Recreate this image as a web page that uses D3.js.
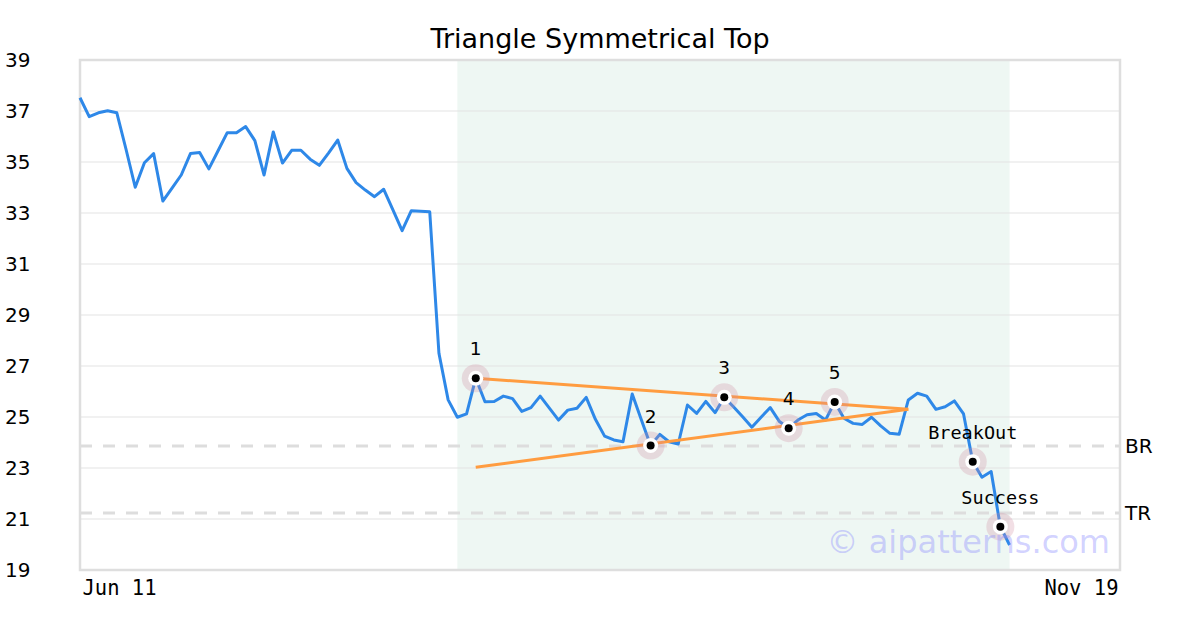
<!DOCTYPE html>
<html>
<head>
<meta charset="utf-8">
<script src="https://cdn.jsdelivr.net/npm/d3@7"></script>
<style>
  html, body { margin: 0; padding: 0; background: #fff; }
  svg { display: block; }
</style>
</head>
<body>
<svg id="chart" width="1200" height="630"></svg>
<script>
const title = "Triangle Symmetrical Top";
const prices = [
  37.52, 36.78, 36.93, 37.01, 36.93, 35.50, 34.01, 34.97, 35.33, 33.47,
  33.98, 34.49, 35.33, 35.37, 34.73, 35.44, 36.15, 36.15, 36.39, 35.84,
  34.49, 36.18, 34.96, 35.46, 35.46, 35.11, 34.87, 35.35, 35.86, 34.75,
  34.19, 33.90, 33.64, 33.93, 33.12, 32.31, 33.09, 33.07, 33.05, 27.50,
  25.67, 24.99, 25.12, 26.52, 25.60, 25.61, 25.82, 25.72, 25.22, 25.37,
  25.82, 25.35, 24.88, 25.27, 25.34, 25.77, 24.91, 24.25, 24.10, 24.03,
  25.90, 24.88, 23.88, 24.32, 24.03, 23.94, 25.47, 25.14, 25.61, 25.17,
  25.77, 25.40, 25.01, 24.60, 24.99, 25.37, 24.82, 24.56, 24.88, 25.09,
  25.14, 24.88, 25.59, 24.95, 24.75, 24.71, 24.99, 24.65, 24.36, 24.32,
  25.67, 25.93, 25.82, 25.30, 25.40, 25.63, 25.12, 23.25, 22.64, 22.86,
  20.70, 19.98
];
const xTickIndex = [0, 113];
const xTickLabels = ["Jun 11", "Nov 19"];
const yTicks = [19, 21, 23, 25, 27, 29, 31, 33, 35, 37, 39];
const shadeRange = [41, 101];
const pointIndex = [43, 62, 70, 77, 82, 97, 100];
const pointLabels = ["1", "2", "3", "4", "5", "BreakOut", "Success"];
const upperLine = [[43, 26.52], [90, 25.30]];
const lowerLine = [[43, 23.03], [90, 25.30]];
const refLevels = [23.86, 21.24];
const refLabels = ["BR", "TR"];
const watermark = "© aipatterns.com";

const svg = d3.select("#chart");
const L = 80, R = 1120, T = 60, B = 570;
const x = d3.scaleLinear().domain([0, 113]).range([L, R]);
const y = d3.scaleLinear().domain([19, 39]).range([B, T]);

// title
svg.append("text").attr("x", 600).attr("y", 48).attr("text-anchor", "middle")
  .attr("font-family", "DejaVu Sans").attr("font-size", 27).attr("fill", "#000").text(title);

// shaded region
svg.append("rect").attr("x", x(shadeRange[0])).attr("y", T)
  .attr("width", x(shadeRange[1]) - x(shadeRange[0])).attr("height", B - T)
  .attr("fill", "#eef7f3");

// gridlines
svg.append("g").selectAll("line").data(yTicks.slice(1, -1)).join("line")
  .attr("x1", L).attr("x2", R).attr("y1", d => y(d)).attr("y2", d => y(d))
  .attr("stroke", "#e3e3e3").attr("stroke-width", 1);

// y axis labels
const yAxis = d3.axisLeft(y).tickValues(yTicks).tickSize(0).tickPadding(0);
const gy = svg.append("g").attr("transform", "translate(5,0)").call(yAxis);
gy.select(".domain").remove();
gy.selectAll("text").attr("text-anchor", "start").attr("x", 0)
  .attr("font-family", "DejaVu Sans").attr("font-size", 20).attr("fill", "#000");

// x axis labels
const xAxis = d3.axisBottom(x).tickValues(xTickIndex).tickSize(0).tickPadding(0)
  .tickFormat((d, i) => xTickLabels[i]);
const gx = svg.append("g").attr("transform", `translate(0,${B})`).call(xAxis);
gx.select(".domain").remove();
gx.selectAll("text").attr("y", 25).attr("dy", 0)
  .attr("font-family", "DejaVu Sans Mono").attr("font-size", 20.5).attr("fill", "#000")
  .attr("text-anchor", (d, i) => i === 0 ? "start" : "end")
  .attr("x", (d, i) => i === 0 ? 2 : -2);

// reference dashed lines
svg.append("g").selectAll("line").data(refLevels).join("line")
  .attr("x1", L).attr("x2", R).attr("y1", d => y(d)).attr("y2", d => y(d))
  .attr("stroke", "#dddddd").attr("stroke-width", 3).attr("stroke-dasharray", "12,11");
svg.append("g").selectAll("text").data(refLevels).join("text")
  .attr("x", 1125).attr("y", d => y(d)).attr("dominant-baseline", "central")
  .attr("font-family", "DejaVu Sans").attr("font-size", 20).attr("fill", "#000")
  .text((d, i) => refLabels[i]);

// border
svg.append("rect").attr("x", L).attr("y", T).attr("width", R - L).attr("height", B - T)
  .attr("fill", "none").attr("stroke", "#dedede").attr("stroke-width", 2.5);

// price line
const line = d3.line().x((d, i) => x(i)).y(d => y(d));
svg.append("path").datum(prices).attr("d", line).attr("fill", "none")
  .attr("stroke", "#2e88e8").attr("stroke-width", 3).attr("stroke-linejoin", "round");

// triangle lines
const tline = d3.line().x(d => x(d[0])).y(d => y(d[1]));
[upperLine, lowerLine].forEach(l => {
  svg.append("path").datum(l).attr("d", tline).attr("fill", "none")
    .attr("stroke", "#ff9c40").attr("stroke-width", 3);
});

// markers
const pts = pointIndex.map((idx, i) => ({ idx, v: prices[idx], label: pointLabels[i] }));
const gm = svg.append("g");
gm.selectAll("circle.halo").data(pts).join("circle").attr("class", "halo")
  .attr("cx", d => x(d.idx)).attr("cy", d => y(d.v)).attr("r", 14)
  .attr("fill", "rgba(210,140,160,0.28)");
gm.selectAll("circle.w").data(pts).join("circle").attr("class", "w")
  .attr("cx", d => x(d.idx)).attr("cy", d => y(d.v)).attr("r", 7.5).attr("fill", "#fff");
gm.selectAll("circle.k").data(pts).join("circle").attr("class", "k")
  .attr("cx", d => x(d.idx)).attr("cy", d => y(d.v)).attr("r", 4).attr("fill", "#000");
gm.selectAll("text").data(pts).join("text")
  .attr("x", d => x(d.idx)).attr("y", d => y(d.v) - 23).attr("text-anchor", "middle")
  .attr("font-family", d => d.label.length > 1 ? "DejaVu Sans Mono" : "DejaVu Sans")
  .attr("font-size", 18.5).attr("fill", "#000").text(d => d.label);

// watermark
svg.append("text").attr("x", 1110).attr("y", 553).attr("text-anchor", "end")
  .attr("font-family", "DejaVu Sans").attr("font-size", 32)
  .attr("fill", "rgba(140,140,255,0.4)").text(watermark);
</script>
</body>
</html>
